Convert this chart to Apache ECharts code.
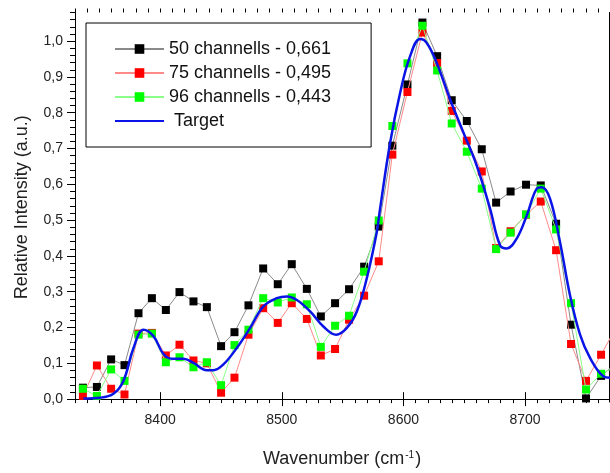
<!DOCTYPE html>
<html>
<head>
<meta charset="utf-8">
<script src="https://cdn.jsdelivr.net/npm/echarts@6/dist/echarts.min.js"></script>
<style>
html,body{margin:0;padding:0;background:#fff;}
#chart{width:610px;height:473px;}
</style>
</head>
<body>
<div id="chart"></div>
<script>
// ---- data ----
const wavenumbers = [8336.5, 8348.0, 8359.7, 8370.7, 8382.2, 8393.2, 8404.7, 8415.9, 8427.4, 8438.4,
  8450.1, 8461.1, 8472.6, 8484.7, 8496.7, 8508.2, 8520.6, 8532.1, 8543.8, 8555.3,
  8567.7, 8579.7, 8590.9, 8603.3, 8615.6, 8627.7, 8639.7, 8652.1, 8664.4, 8676.2,
  8688.1, 8700.8, 8712.9, 8725.5, 8737.8, 8750.1, 8762.5, 8774.8];
const ch50 = [0.032, 0.034, 0.111, 0.095, 0.240, 0.282, 0.249, 0.299, 0.273, 0.257,
  0.148, 0.187, 0.262, 0.365, 0.321, 0.377, 0.308, 0.231, 0.268, 0.307,
  0.370, 0.482, 0.708, 0.879, 1.052, 0.958, 0.835, 0.777, 0.698, 0.549,
  0.580, 0.599, 0.597, 0.490, 0.208, 0.002, 0.065, 0.100];
const ch75 = [0.009, 0.094, 0.029, 0.013, 0.183, 0.185, 0.122, 0.152, 0.108, 0.100,
  0.018, 0.060, 0.180, 0.254, 0.213, 0.268, 0.224, 0.122, 0.140, 0.222,
  0.289, 0.385, 0.683, 0.858, 1.024, 0.939, 0.805, 0.722, 0.636, 0.422,
  0.469, 0.515, 0.552, 0.416, 0.154, 0.051, 0.124, 0.200];
const ch96 = [0.029, 0.009, 0.083, 0.051, 0.180, 0.183, 0.103, 0.117, 0.089, 0.103,
  0.039, 0.151, 0.194, 0.282, 0.270, 0.284, 0.265, 0.146, 0.205, 0.233,
  0.356, 0.499, 0.763, 0.938, 1.043, 0.918, 0.770, 0.691, 0.588, 0.419,
  0.465, 0.516, 0.588, 0.474, 0.268, 0.027, 0.071, 0.090];
const targetX = [8336.9, 8350.7, 8361.6, 8369.8, 8378.1, 8386.3, 8394.5, 8402.7, 8409.6, 8419.2,
  8427.4, 8438.4, 8443.8, 8452.0, 8463.0, 8474.0, 8484.9, 8495.9, 8504.1, 8512.4,
  8523.3, 8534.2, 8544.7, 8553.5, 8561.7, 8569.9, 8578.1, 8580.8, 8589.1, 8597.3,
  8605.5, 8613.7, 8619.2, 8627.4, 8638.4, 8649.3, 8660.3, 8671.2, 8679.4, 8685.0,
  8693.2, 8701.4, 8709.6, 8713.7, 8720.5, 8728.7, 8736.9, 8745.2, 8753.4, 8764.3, 8769.8];
const targetY = [0.002, 0.004, 0.015, 0.051, 0.143, 0.194, 0.176, 0.126, 0.113, 0.113,
  0.101, 0.081, 0.081, 0.097, 0.143, 0.199, 0.259, 0.282, 0.287, 0.277,
  0.245, 0.203, 0.180, 0.199, 0.245, 0.338, 0.467, 0.532, 0.717, 0.856,
  0.958, 1.006, 0.995, 0.939, 0.837, 0.745, 0.652, 0.532, 0.430, 0.421,
  0.449, 0.513, 0.588, 0.592, 0.560, 0.439, 0.291, 0.180, 0.115, 0.064, 0.060];
const seriesNames = ['50 channells - 0,661', '75 channells - 0,495', '96 channells - 0,443', 'Target'];
const xTickLabels = [8400, 8500, 8600, 8700];
const yTickLabels = [0, 0.1, 0.2, 0.3, 0.4, 0.5, 0.6, 0.7, 0.8, 0.9, 1.0];

// ---- axis ranges / minor ticks ----
const X_MIN = 8330, X_MAX = 8769, Y_MIN = -0.008, Y_MAX = 1.08;
const xMinor = []; for (let v = 8330; v <= 8760; v += 10) xMinor.push(v);
const yMinor = []; for (let i = 0; i <= 54; i++) yMinor.push(Math.round(i * 2) / 100);

const FONT = '"Liberation Sans", Arial, sans-serif';
const pair = (xs, ys) => xs.map((x, i) => [x, ys[i]]);

function xAx(pos, major, withLabel) {
  return {
    type: 'value', position: pos, min: X_MIN, max: X_MAX,
    axisLine: { show: major, lineStyle: { color: '#000', width: 1 } },
    axisTick: { show: true, customValues: major ? xTickLabels : xMinor, length: major ? 7 : 4, inside: false, lineStyle: { color: '#000', width: 1 } },
    axisLabel: withLabel ? { show: true, customValues: xTickLabels, margin: 11, fontSize: 14, color: '#222', fontFamily: FONT, formatter: v => String(v) } : { show: false },
    splitLine: { show: false },
    name: withLabel ? 'Wavenumber (cm{sup|-1})' : '',
    nameLocation: 'middle', nameGap: 48,
    nameTextStyle: { fontSize: 18, color: '#222', fontFamily: FONT, rich: { sup: { fontSize: 10, verticalAlign: 'top', padding: [0, 1, 8, 1], color: '#222', fontFamily: FONT } } }
  };
}
function yAx(pos, major, withLabel, ticks) {
  return {
    type: 'value', position: pos, min: Y_MIN, max: Y_MAX,
    axisLine: { show: major, onZero: false, lineStyle: { color: '#000', width: 1 } },
    axisTick: { show: ticks, customValues: major ? yTickLabels : yMinor, length: major ? 8 : 5, lineStyle: { color: '#000', width: 1 } },
    axisLabel: withLabel ? { show: true, customValues: yTickLabels, margin: 12, fontSize: 14, color: '#222', fontFamily: FONT, formatter: v => v.toFixed(1).replace('.', ',') } : { show: false },
    splitLine: { show: false },
    name: withLabel ? 'Relative Intensity (a.u.)' : '',
    nameLocation: 'middle', nameGap: 44, nameRotate: 90,
    nameTextStyle: { fontSize: 18, color: '#222', fontFamily: FONT }
  };
}

const chart = echarts.init(document.getElementById('chart'), null, { renderer: 'canvas' });
chart.setOption({
  animation: false,
  backgroundColor: '#fff',
  grid: { left: 75, right: 1, top: 12.5, bottom: 69, containLabel: false },
  xAxis: [xAx('bottom', true, true), xAx('bottom', false, false), xAx('top', true, false), xAx('top', false, false)],
  yAxis: [yAx('left', true, true, true), yAx('left', false, false, true), { type: 'value', position: 'right', min: Y_MIN, max: Y_MAX, axisLine: { show: true, onZero: false, lineStyle: { color: '#000' } }, axisTick: { show: false }, axisLabel: { show: false }, splitLine: { show: false } }],
  legend: {
    orient: 'vertical', left: 86, top: 23,
    borderColor: '#000', borderWidth: 1, borderRadius: 0,
    padding: [17, 40, 17, 28],
    itemWidth: 49, itemHeight: 12, itemGap: 6,
    textStyle: { fontSize: 18, color: '#111', fontFamily: FONT },
    formatter: n => (n === 'Target' ? ' Target' : n),
    data: [seriesNames[0], seriesNames[1], seriesNames[2], { name: seriesNames[3], itemStyle: { opacity: 0 } }]
  },
  series: [
    { name: seriesNames[0], type: 'line', data: pair(wavenumbers, ch50), symbol: 'rect', symbolSize: 8,
      itemStyle: { color: '#000' }, lineStyle: { color: '#8a8a8a', width: 1 }, z: 2 },
    { name: seriesNames[1], type: 'line', data: pair(wavenumbers, ch75), symbol: 'rect', symbolSize: 8,
      itemStyle: { color: '#ff0000' }, lineStyle: { color: '#ff8a8a', width: 1 }, z: 3 },
    { name: seriesNames[2], type: 'line', data: pair(wavenumbers, ch96), symbol: 'rect', symbolSize: 8,
      itemStyle: { color: '#00ff00' }, lineStyle: { color: '#8aff8a', width: 1 }, z: 4 },
    { name: seriesNames[3], type: 'line', data: pair(targetX, targetY), symbol: 'none', smooth: 0.4,
      itemStyle: { color: '#0a14e6' }, lineStyle: { color: '#0a14e6', width: 2.5 }, z: 5 }
  ]
});
</script>
</body>
</html>
